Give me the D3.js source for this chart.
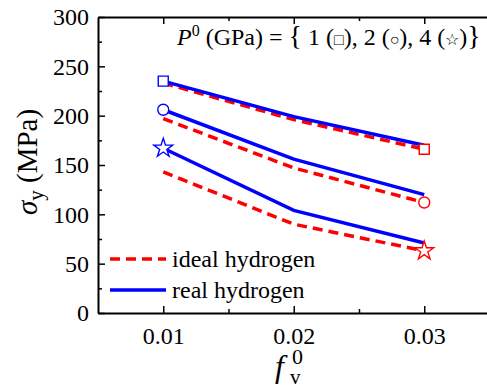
<!DOCTYPE html>
<html>
<head>
<meta charset="utf-8">
<script src="https://cdn.jsdelivr.net/npm/d3@7"></script>
<style>
  body { margin: 0; background: #fff; }
</style>
</head>
<body>
<svg id="chart"></svg>
<script>
var fv = [0.01, 0.02, 0.03];
var pressures = [1, 2, 4];
var markerShapes = ['square', 'circle', 'star'];
var realHydrogen = [
  [235, 199, 170],
  [206, 156, 120],
  [167, 104, 71]
];
var idealHydrogen = [
  [233, 196, 166],
  [197, 147, 112],
  [143, 90, 63]
];
var yTicks = [0, 50, 100, 150, 200, 250, 300];
var xTicks = [0.01, 0.02, 0.03];

var width = 487, height = 389;
var serif = 'Liberation Serif';
var svg = d3.select('#chart').attr('width', width).attr('height', height);

var x = d3.scaleLinear().domain([0.005, 0.035]).range([98, 489.5]);
var y = d3.scaleLinear().domain([0, 300]).range([313, 17]);

var line = d3.line()
  .x(function(d, i){ return x(fv[i]); })
  .y(function(d){ return y(d); });

// ideal hydrogen, dashed red
svg.append('g').selectAll('path')
  .data(idealHydrogen)
  .enter().append('path')
  .attr('d', line)
  .attr('fill', 'none')
  .attr('stroke', '#ff0000')
  .attr('stroke-width', 3.5)
  .attr('stroke-dasharray', '10,6');

// real hydrogen, solid blue
svg.append('g').selectAll('path')
  .data(realHydrogen)
  .enter().append('path')
  .attr('d', line)
  .attr('fill', 'none')
  .attr('stroke', '#0000ff')
  .attr('stroke-width', 3.5);

var symbolFor = function(shape){
  if (shape == 'square') return d3.symbol().type(d3.symbolSquare).size(100)();
  if (shape == 'circle') return d3.symbol().type(d3.symbolCircle).size(95)();
  return d3.symbol().type(d3.symbolStar).size(110)();
};

// blue markers at the first point, red markers at the last
realHydrogen.forEach(function(s, k){
  svg.append('path')
    .attr('d', symbolFor(markerShapes[k]))
    .attr('transform', 'translate(' + x(fv[0]) + ',' + y(s[0]) + ')')
    .attr('fill', '#fff').attr('stroke', '#0000ff').attr('stroke-width', 1.4);
});
idealHydrogen.forEach(function(s, k){
  svg.append('path')
    .attr('d', symbolFor(markerShapes[k]))
    .attr('transform', 'translate(' + x(fv[2]) + ',' + y(s[2]) + ')')
    .attr('fill', '#fff').attr('stroke', '#ff0000').attr('stroke-width', 1.4);
});

// frame and axes
var axisStyle = function(g){
  g.attr('font-family', null);
  g.select('.domain').attr('stroke-width', 2);
  g.selectAll('.tick line').attr('stroke-width', 1.5);
  g.selectAll('text').style('font-size', '24px').style('font-family', serif).attr('fill', '#000');
};
var minorStyle = function(g){
  g.select('.domain').remove();
  g.selectAll('line').attr('stroke-width', 1.5);
};

svg.append('g')
  .attr('transform', 'translate(' + x.range()[0] + ',0)')
  .call(d3.axisLeft(y).tickValues(yTicks).tickSizeInner(-7).tickSizeOuter(0).tickPadding(9))
  .call(axisStyle);
svg.append('g')
  .attr('transform', 'translate(' + x.range()[0] + ',0)')
  .call(d3.axisLeft(y).tickValues(d3.range(25, 300, 50)).tickSize(-4).tickFormat(''))
  .call(minorStyle);

svg.append('g')
  .attr('transform', 'translate(0,' + y(0) + ')')
  .call(d3.axisBottom(x).tickValues(xTicks).tickFormat(d3.format('.2f')).tickSizeInner(-7).tickSizeOuter(0).tickPadding(14))
  .call(axisStyle);
svg.append('g')
  .attr('transform', 'translate(0,' + y(0) + ')')
  .call(d3.axisBottom(x).tickValues([0.015, 0.025]).tickSize(-4).tickFormat(''))
  .call(minorStyle);

svg.append('g')
  .attr('transform', 'translate(0,' + y(300) + ')')
  .call(d3.axisTop(x).tickValues(xTicks).tickSizeInner(-7).tickSizeOuter(0).tickFormat(''))
  .call(axisStyle);
svg.append('g')
  .attr('transform', 'translate(0,' + y(300) + ')')
  .call(d3.axisTop(x).tickValues([0.015, 0.025]).tickSize(-4).tickFormat(''))
  .call(minorStyle);

// axis titles
var yl = svg.append('text')
  .attr('transform', 'translate(37,162) rotate(-90)')
  .attr('text-anchor', 'middle')
  .style('font-family', serif)
  .style('font-size', '29px');
yl.append('tspan').style('font-style', 'italic').text('σ');
yl.append('tspan').style('font-size', '21px').attr('dy', 6).text('y');
yl.append('tspan').attr('dy', -6).text(' (MPa)');

svg.append('text')
  .attr('x', 275).attr('y', 377)
  .style('font-family', serif).style('font-style', 'italic')
  .style('font-size', '32px')
  .text('f');
svg.append('text')
  .attr('x', 290).attr('y', 384)
  .style('font-family', serif).style('font-size', '21px')
  .text('v');
svg.append('text')
  .attr('x', 292).attr('y', 364)
  .style('font-family', serif).style('font-size', '22px')
  .text('0');

// annotation
var ann = svg.append('text')
  .attr('x', 177).attr('y', 45)
  .style('font-family', serif)
  .style('font-size', '24px');
ann.append('tspan').style('font-style', 'italic').text('P');
ann.append('tspan').style('font-size', '16px').attr('dy', -9).text('0');
ann.append('tspan').attr('dy', 9).text(' (GPa) = ');
ann.append('tspan').style('font-size', '28px').text('{');
ann.append('tspan').text(' 1 (');
ann.append('tspan').style('font-size', '16px').text('□');
ann.append('tspan').text('), 2 (');
ann.append('tspan').style('font-size', '16px').text('○');
ann.append('tspan').text('), 4 (');
ann.append('tspan').style('font-size', '16px').text('☆');
ann.append('tspan').text(')');
ann.append('tspan').style('font-size', '28px').text('}');

// legend
var legend = [
  {label: 'ideal hydrogen', color: '#ff0000', dash: '10,6', y: 259},
  {label: 'real hydrogen', color: '#0000ff', dash: null, y: 290}
];
var lg = svg.append('g').selectAll('g').data(legend).enter().append('g');
lg.append('line')
  .attr('x1', 110).attr('x2', 166)
  .attr('y1', function(d){ return d.y; }).attr('y2', function(d){ return d.y; })
  .attr('stroke', function(d){ return d.color; })
  .attr('stroke-width', 3.5)
  .attr('stroke-dasharray', function(d){ return d.dash; });
lg.append('text')
  .attr('x', 172).attr('y', function(d){ return d.y + 8; })
  .style('font-family', serif)
  .style('font-size', '24px')
  .text(function(d){ return d.label; });
</script>
</body>
</html>
